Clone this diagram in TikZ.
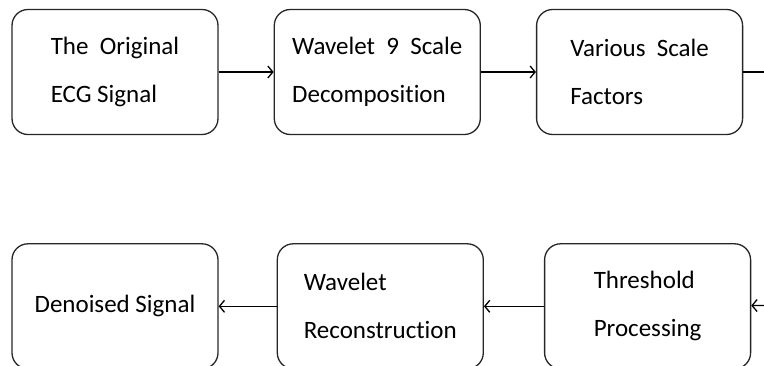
\documentclass[tikz,border=0pt]{standalone}
\usepackage{fontspec}
\setmainfont[Ligatures=NoCommon]{Carlito}
\usetikzlibrary{positioning,arrows.meta}

\begin{document}
\begin{tikzpicture}[>={Straight Barb[length=5pt,width=12pt]},line width=1.3pt,node distance=55pt,
	box/.style={draw=black!85,rounded corners=16pt,minimum width=206pt,minimum height=125pt,
		align=left,font=\fontsize{25}{48}\selectfont}]
	\useasboundingbox (-115pt,72pt) rectangle (649pt,-293pt);
	\clip (-115pt,72pt) rectangle (649pt,-293pt);
	% top row
	\node[box] (orig) {The~~Original\\ECG Signal};
	\node[box] (decomp) [right=of orig] {Wavelet~~9~~Scale\\Decomposition};
	\node[box] (factors) [right=of decomp] {Various~~Scale\\Factors};
	% bottom row
	\node[box] (denoised) [below=108pt of orig] {Denoised Signal};
	\node[box] (recon) [right=58pt of denoised] {Wavelet\\Reconstruction};
	\node[box] (thresh) [right=60pt of recon] {Threshold\\Processing};
	\coordinate (outtop) at (649pt,0pt);
	\coordinate (inbot) at (649pt,-233.5pt);
	\draw[->] (orig) -- (decomp);
	\draw[->] (decomp) -- (factors);
	\draw (factors) -- (outtop);
	\draw[->] (inbot) -- (thresh);
	\draw[->] (thresh) -- (recon);
	\draw[->] (recon) -- (denoised);
\end{tikzpicture}
\end{document}
